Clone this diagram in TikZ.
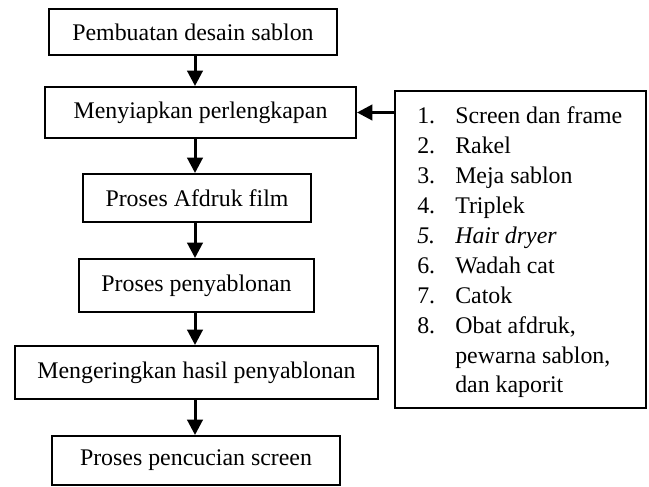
\documentclass[tikz,border=0pt]{standalone}
\usepackage{fontspec}
\setmainfont{Liberation Serif}
\usetikzlibrary{arrows.meta}
\begin{document}
\begin{tikzpicture}[x=0.75pt,y=-0.75pt,
  box/.style={draw=black,line width=1.5pt,inner sep=0pt,font=\fontsize{17.9}{22.5}\selectfont},
  arr/.style={line width=2.25pt,-{Triangle[length=11.5pt,width=11.5pt]}},
  itm/.style={anchor=base west,inner sep=0pt,font=\fontsize{17.9}{22.5}\selectfont}]
\useasboundingbox (0,0) rectangle (649,486);
\node[box,minimum width=216pt,minimum height=34.5pt] (b1) at (193,32) {Pembuatan desain sablon};
\node[box,minimum width=233.25pt,minimum height=38.25pt] (b2) at (200.5,112.5) {Menyiapkan perlengkapan};
\node[box,minimum width=171pt,minimum height=36pt] (b3) at (197,198) {Proses Afdruk film};
\node[box,minimum width=176.25pt,minimum height=39.75pt] (b4) at (196.5,285.5) {Proses penyablonan};
\node[box,minimum width=272.25pt,minimum height=39.75pt] (b5) at (196.5,372.5) {Mengeringkan hasil penyablonan};
\node[box,minimum width=216pt,minimum height=36.75pt] (b6) at (196,460.5) {Proses pencucian screen};
\node[box,minimum width=188.25pt,minimum height=237.75pt] (lst) at (520.5,249.5) {};
\coordinate (ax) at (195,0);
\draw[arr] (b1.south -| ax) -- (b2.north -| ax);
\draw[arr] (b2.south -| ax) -- (b3.north -| ax);
\draw[arr] (b3.south -| ax) -- (b4.north -| ax);
\draw[arr] (b4.south -| ax) -- (b5.north -| ax);
\draw[arr] (b5.south -| ax) -- (b6.north -| ax);
\draw[arr] (lst.west |- b2.east) -- (b2.east);
\node[itm] (n1) at (417,123) {1.};
\node[itm] (t1) at (455,123) {Screen dan frame};
\node[itm] (n2) at (417,153) {2.};
\node[itm] (t2) at (455,153) {Rakel};
\node[itm] (n3) at (417,183) {3.};
\node[itm] (t3) at (455,183) {Meja sablon};
\node[itm] (n4) at (417,213) {4.};
\node[itm] (t4) at (455,213) {Triplek};
\node[itm] (n5) at (417,243) {\itshape 5.};
\node[itm] (t5) at (455,243) {\textit{Hai}r \textit{dryer}};
\node[itm] (n6) at (417,273) {6.};
\node[itm] (t6) at (455,273) {Wadah cat};
\node[itm] (n7) at (417,303) {7.};
\node[itm] (t7) at (455,303) {Catok};
\node[itm] (n8) at (417,333) {8.};
\node[itm] (t8) at (455,333) {Obat afdruk,};
\node[itm] (t9) at (455,363) {pewarna sablon,};
\node[itm] (t10) at (455,392) {dan kaporit};
\end{tikzpicture}
\end{document}
